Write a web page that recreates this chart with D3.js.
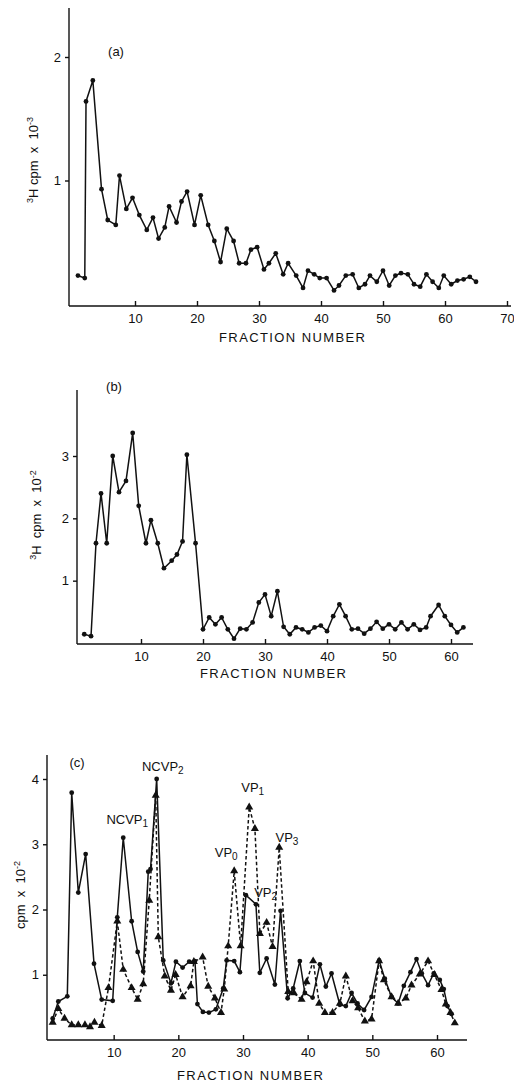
<!DOCTYPE html>
<html>
<head>
<meta charset="utf-8">
<script src="https://cdnjs.cloudflare.com/ajax/libs/d3/7.8.5/d3.min.js"></script>
<style>
  body { margin: 0; background: #fff; }
  svg text { font-family: "Liberation Sans", Arial, sans-serif; fill: #111; white-space: pre; }
  svg tspan { fill: #111; }
  .axis path, .axis line { stroke: #111; stroke-width: 1.4; fill: none; }
  .axis text { font-size: 13px; }
  .trace { fill: none; stroke: #111; stroke-width: 1.5; }
  .dashed { stroke-dasharray: 3.5, 2.5; }
</style>
</head>
<body>
<script>
// panel (a): 3H cpm x 10^-3 per fraction
var aFrac = [0.8, 1.9, 2.1, 3.2, 4.6, 5.6, 6.9, 7.5, 8.6, 9.6, 10.7, 11.9, 12.9, 13.8, 14.8, 15.5, 16.7, 17.5, 18.4, 19.6,
  20.6, 21.8, 22.8, 23.8, 24.8, 25.9, 26.8, 27.9, 28.7, 29.7, 30.8, 31.6, 32.7, 33.9, 34.7, 36, 37.1, 37.9, 38.9, 39.8,
  40.9, 42.1, 42.9, 44, 45.1, 46.1, 47.1, 47.9, 49, 50, 51, 52, 52.9, 54, 55, 56, 57, 58, 59, 59.8, 61, 62, 63, 64, 65];
var aCpm = [0.23, 0.21, 1.64, 1.81, 0.93, 0.68, 0.64, 1.04, 0.77, 0.86, 0.72, 0.60, 0.70, 0.53, 0.62, 0.79, 0.66, 0.83, 0.91, 0.64,
  0.88, 0.64, 0.51, 0.34, 0.61, 0.51, 0.33, 0.33, 0.44, 0.46, 0.28, 0.33, 0.41, 0.24, 0.33, 0.23, 0.13, 0.27, 0.24, 0.21,
  0.21, 0.11, 0.15, 0.23, 0.24, 0.13, 0.16, 0.23, 0.18, 0.27, 0.15, 0.23, 0.25, 0.24, 0.16, 0.14, 0.24, 0.18, 0.13, 0.23,
  0.16, 0.19, 0.20, 0.22, 0.18];
var aXTicks = [10, 20, 30, 40, 50, 60, 70];
var aYTicks = [1, 2];

// panel (b): 3H cpm x 10^-2 per fraction
var bFrac = [0.85, 1.94, 2.74, 3.55, 4.47, 5.44, 6.45, 7.58, 8.66, 9.63, 10.8, 11.6, 12.7, 13.7, 14.95, 15.8, 16.7, 17.4, 18.8,
  20, 21, 22, 23, 24, 25, 26, 27, 28, 29, 30, 31, 32, 33, 34, 35, 36, 37, 38, 39, 40, 41, 42, 43, 44, 45, 46, 47, 48, 49, 50,
  51, 52, 53, 54, 55, 56, 56.7, 58, 59, 60, 61, 62];
var bCpm = [0.14, 0.11, 1.6, 2.4, 1.6, 3.0, 2.42, 2.6, 3.37, 2.2, 1.6, 1.97, 1.6, 1.2, 1.32, 1.42, 1.63, 3.02, 1.6,
  0.22, 0.41, 0.30, 0.41, 0.22, 0.07, 0.23, 0.22, 0.33, 0.65, 0.78, 0.43, 0.83, 0.26, 0.14, 0.25, 0.22, 0.17, 0.25, 0.28, 0.19,
  0.43, 0.62, 0.43, 0.22, 0.23, 0.15, 0.23, 0.34, 0.23, 0.30, 0.22, 0.33, 0.22, 0.30, 0.21, 0.25, 0.43, 0.61, 0.43, 0.29,
  0.17, 0.25];
var bXTicks = [10, 20, 30, 40, 50, 60];
var bYTicks = [1, 2, 3];

// panel (c): cpm x 10^-2, solid trace (circles) and dashed trace (triangles)
var cSolidFrac = [0.57, 1.44, 2.83, 3.51, 4.53, 5.67, 6.96, 8.15, 9.85, 10.56, 11.48, 12.78, 13.71, 14.57, 15.35, 15.7, 16.65,
  17.67, 18.86, 19.63, 20.66, 21.68, 22.57, 22.95, 23.8, 24.73, 25.8, 26.94, 27.47, 28.64, 29.52, 30.45, 32.0, 32.6, 33.65,
  34.93, 35.81, 36.9, 37.76, 38.79, 39.57, 40.76, 41.89, 42.81, 43.69, 44.98, 45.9, 46.79, 47.71, 48.73, 49.88, 51.05, 51.93,
  52.97, 53.99, 54.87, 55.9, 56.83, 57.65, 58.62, 59.5, 60.43, 61.05, 61.62, 62.24];
var cSolidCpm = [0.33, 0.59, 0.67, 3.79, 2.26, 2.85, 1.17, 0.62, 0.60, 1.88, 3.10, 1.82, 1.35, 1.05, 2.58, 2.62, 4.0,
  1.22, 0.87, 1.20, 1.11, 1.20, 1.21, 0.55, 0.43, 0.42, 0.47, 0.79, 1.22, 1.21, 1.04, 2.22, 2.08, 1.03, 1.25,
  0.85, 1.98, 0.64, 0.79, 1.21, 0.72, 0.65, 1.16, 0.82, 1.02, 0.54, 0.52, 0.72, 0.56, 0.46, 0.66, 1.22, 0.94,
  0.66, 0.56, 0.83, 1.04, 1.24, 1.02, 0.84, 1.02, 0.92, 0.78, 0.52, 0.40];
var cDashFrac = [0.57, 1.44, 2.4, 3.51, 4.53, 5.56, 6.34, 7.03, 8.15, 9.2, 10.56, 11.48, 12.78, 13.71, 14.57, 15.5, 16.5,
  16.9, 17.9, 18.86, 19.58, 20.66, 21.9, 22.4, 23.76, 24.62, 25.66, 26.6, 27.1, 27.71, 28.64, 29.63, 30.96, 31.84, 32.61,
  33.65, 34.57, 35.6, 36.99, 37.87, 39.06, 39.83, 40.85, 41.78, 42.66, 43.85, 44.98, 45.9, 46.94, 47.8, 48.84, 49.88,
  51.05, 51.78, 52.97, 53.99, 55.18, 56.06, 57.34, 58.62, 59.6, 60.69, 61.36, 62.08, 62.75];
var cDashCpm = [0.27, 0.48, 0.33, 0.23, 0.23, 0.23, 0.20, 0.27, 0.22, 0.80, 1.82, 1.08, 0.80, 0.62, 0.86, 2.14, 3.75,
  1.58, 0.98, 0.76, 1.0, 0.66, 0.83, 1.2, 1.27, 0.82, 0.64, 0.42, 0.78, 1.44, 2.59, 1.44, 3.57, 3.24, 1.63,
  1.80, 1.43, 2.95, 0.74, 0.72, 0.62, 0.89, 1.21, 0.56, 0.42, 0.42, 0.56, 0.98, 0.60, 0.49, 0.29, 0.32,
  1.21, 0.92, 0.66, 0.56, 0.64, 0.84, 1.01, 1.21, 1.0, 0.77, 0.55, 0.42, 0.26];
var cXTicks = [10, 20, 30, 40, 50, 60];
var cYTicks = [1, 2, 3, 4];

// peak names for panel (c), anchored in data units
var peakNames = ["NCVP", "NCVP", "VP", "VP", "VP", "VP"];
var peakSubs = ["1", "2", "0", "1", "2", "3"];
var peakFrac = [12.1, 17.6, 27.4, 31.5, 33.5, 36.8];
var peakCpm = [3.31, 4.13, 2.8, 3.8, 2.19, 3.03];

var svg = d3.select("body").append("svg")
    .attr("width", 514)
    .attr("height", 1084);

function zip(xs, ys) {
  return xs.map(function(d, i) { return [d, ys[i]]; });
}

// draws axes and texts of one panel; returns the scales
function panel(p) {
  var x = d3.scaleLinear().domain(p.xDomain).range(p.xRange);
  var y = d3.scaleLinear().domain(p.yDomain).range(p.yRange);

  var gy = svg.append("g")
      .attr("class", "axis")
      .attr("transform", "translate(" + p.axisX + ",0)")
      .call(d3.axisLeft(y).tickValues(p.yTicks).tickSize(4).tickSizeOuter(0).tickPadding(4).tickFormat(d3.format("d")));
  gy.select(".domain").attr("d", "M0," + p.axisY + "V" + p.yTop);

  var gx = svg.append("g")
      .attr("class", "axis")
      .attr("transform", "translate(0," + p.axisY + ")")
      .call(d3.axisBottom(x).tickValues(p.xTicks).tickSizeInner(-5).tickSizeOuter(0).tickPadding(8).tickFormat(d3.format("d")));
  gx.select(".domain").attr("d", "M" + p.axisX + ",0H" + p.xEnd);

  svg.selectAll(".axis text").attr("font-family", null).attr("font-size", null);

  svg.append("text")
      .attr("x", p.titleX)
      .attr("y", p.titleY)
      .attr("text-anchor", "middle")
      .attr("textLength", 146)
      .attr("lengthAdjust", "spacing")
      .style("font-size", "13px")
      .text("FRACTION NUMBER");

  svg.append("text")
      .attr("x", p.tagX)
      .attr("y", p.tagY)
      .attr("text-anchor", "middle")
      .style("font-size", "13px")
      .text(p.tag);

  var lab = svg.append("text")
      .attr("transform", "translate(" + p.labX + "," + p.labY + ") rotate(-90)")
      .attr("text-anchor", "middle")
      .style("font-size", "13px");
  if (p.iso) {
    lab.append("tspan").style("font-size", "9px").attr("dy", -5).text("3");
    lab.append("tspan").attr("dy", 5).text("H " + p.gap + "cpm  x  10");
  } else {
    lab.append("tspan").text("cpm  x  10");
  }
  lab.append("tspan").style("font-size", "9px").attr("dy", -5).text(p.exp);

  return {x: x, y: y};
}

function trace(s, pts, dashed) {
  var line = d3.line()
      .x(function(d) { return s.x(d[0]); })
      .y(function(d) { return s.y(d[1]); });
  svg.append("path")
      .datum(pts)
      .attr("class", dashed ? "trace dashed" : "trace")
      .attr("d", line);
}

function dots(s, pts) {
  svg.append("g").selectAll("circle")
      .data(pts)
    .enter().append("circle")
      .attr("cx", function(d) { return s.x(d[0]); })
      .attr("cy", function(d) { return s.y(d[1]); })
      .attr("r", 2.4)
      .attr("fill", "#111");
}

function triangles(s, pts) {
  svg.append("g").selectAll("path")
      .data(pts)
    .enter().append("path")
      .attr("d", d3.symbol().type(d3.symbolTriangle).size(28))
      .attr("transform", function(d) { return "translate(" + s.x(d[0]) + "," + s.y(d[1]) + ")"; })
      .attr("fill", "#111");
}

// (a)
var sa = panel({
  xDomain: [0, 70], xRange: [73, 507], yDomain: [0, 2], yRange: [304, 57],
  axisX: 69, axisY: 306, yTop: 8, xEnd: 511,
  xTicks: aXTicks, yTicks: aYTicks,
  titleX: 292, titleY: 342, tag: "(a)", tagX: 116, tagY: 56,
  labX: 38, labY: 160, iso: true, gap: "", exp: "-3"
});
var aPts = zip(aFrac, aCpm);
trace(sa, aPts, false);
dots(sa, aPts);

// (b)
var sb = panel({
  xDomain: [0, 60], xRange: [79, 451], yDomain: [0, 3], yRange: [643, 456],
  axisX: 77, axisY: 644, yTop: 390, xEnd: 473,
  xTicks: bXTicks, yTicks: bYTicks,
  titleX: 273, titleY: 678, tag: "(b)", tagX: 114, tagY: 391,
  labX: 41, labY: 515, iso: true, gap: " ", exp: "-2"
});
var bPts = zip(bFrac, bCpm);
trace(sb, bPts, false);
dots(sb, bPts);

// (c)
var sc = panel({
  xDomain: [0, 60], xRange: [49, 437], yDomain: [0, 4], yRange: [1040, 779],
  axisX: 47, axisY: 1040, yTop: 755, xEnd: 467,
  xTicks: cXTicks, yTicks: cYTicks,
  titleX: 250, titleY: 1080, tag: "(c)", tagX: 77, tagY: 767,
  labX: 25, labY: 895, iso: false, gap: "", exp: "-2"
});
var cSolid = zip(cSolidFrac, cSolidCpm);
var cDash = zip(cDashFrac, cDashCpm);
trace(sc, cDash, true);
trace(sc, cSolid, false);
triangles(sc, cDash);
dots(sc, cSolid);

peakNames.forEach(function(name, i) {
  var t = svg.append("text")
      .attr("x", sc.x(peakFrac[i]))
      .attr("y", sc.y(peakCpm[i]))
      .attr("text-anchor", "middle")
      .style("font-size", "13px");
  t.append("tspan").text(name);
  t.append("tspan").style("font-size", "10px").attr("dy", 3).text(peakSubs[i]);
});
</script>
</body>
</html>
